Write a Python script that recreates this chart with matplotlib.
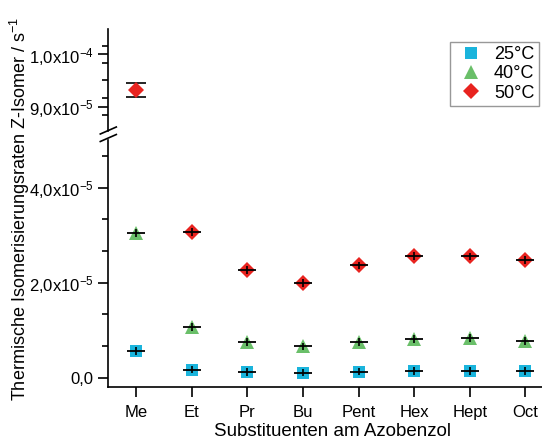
import matplotlib
matplotlib.use("Agg")
import math
import matplotlib.pyplot as plt
from matplotlib.lines import Line2D
from matplotlib.ticker import FixedLocator, FuncFormatter

plt.rcParams['font.family'] = ['Liberation Sans', 'DejaVu Sans']
plt.rcParams['mathtext.default'] = 'regular'

categories = ["Me", "Et", "Pr", "Bu", "Pent", "Hex", "Hept", "Oct"]
rate_25 = [0.56e-5, 0.17e-5, 0.12e-5, 0.105e-5, 0.126e-5, 0.135e-5, 0.135e-5, 0.135e-5]
err_25 = [0.08e-5, 0.08e-5, 0.08e-5, 0.08e-5, 0.08e-5, 0.08e-5, 0.08e-5, 0.08e-5]
rate_40 = [3.04e-5, 1.06e-5, 0.745e-5, 0.66e-5, 0.745e-5, 0.82e-5, 0.84e-5, 0.77e-5]
err_40 = [0.08e-5, 0.08e-5, 0.08e-5, 0.08e-5, 0.08e-5, 0.08e-5, 0.08e-5, 0.08e-5]
rate_50 = [9.32e-5, 3.07e-5, 2.26e-5, 1.99e-5, 2.36e-5, 2.56e-5, 2.55e-5, 2.47e-5]
err_50 = [0.14e-5, 0.08e-5, 0.08e-5, 0.08e-5, 0.08e-5, 0.08e-5, 0.08e-5, 0.08e-5]

c25 = "#1ab4dc"
c40 = "#6abf69"
c50 = "#e8231f"

W, H = 542, 441
fig = plt.figure(figsize=(W / 100, H / 100), dpi=100)

left_px = 108.3
ax_lo = fig.add_axes([left_px / W, (H - 387) / H, (W - left_px) / W, (387 - 140) / H])
ax_hi = fig.add_axes([left_px / W, (H - 131) / H, (W - left_px) / W, (131 - 29) / H])

x = list(range(1, len(categories) + 1))

series = [(rate_25, err_25, c25, "s", 8, "25°C"),
          (rate_40, err_40, c40, "^", 10, "40°C"),
          (rate_50, err_50, c50, "D", 8.5, "50°C")]

for ax in (ax_lo, ax_hi):
    for vals, errs, col, mk, ms, lab in series:
        ax.plot(x, vals, linestyle="none", marker=mk, markersize=ms, color=col,
                markeredgewidth=0, label=lab, zorder=2)
        ax.errorbar(x[1:], vals[1:], yerr=errs[1:], fmt="none", ecolor="black",
                    elinewidth=1.2, capsize=0, zorder=3)
        ax.plot(x[1:], vals[1:], linestyle="none", marker="_", markersize=13,
                markeredgewidth=1.3, color="black", zorder=3)
    ax.set_xlim(0.5, 0.5 + (W - left_px) / 55.6)
    ax.spines['top'].set_visible(False)
    ax.spines['right'].set_visible(False)
    ax.spines['left'].set_linewidth(1.2)
    ax.spines['bottom'].set_linewidth(1.2)
    ax.tick_params(axis='y', which='major', direction='out', length=7, width=1.2, labelsize=12)
    ax.tick_params(axis='y', which='minor', direction='out', length=4, width=1.2)
    ax.patch.set_alpha(0)

# Me column: 25°C and 40°C crosses, 50°C large error bar with caps
ax_lo.errorbar([x[0]], [rate_25[0]], yerr=[err_25[0]], fmt="none", ecolor="black",
               elinewidth=1.2, capsize=0, zorder=3)
ax_lo.plot([x[0]], [rate_25[0]], marker="_", markersize=13, markeredgewidth=1.3,
           color="black", zorder=3)
ax_lo.errorbar([x[0]], [rate_40[0]], yerr=[err_40[0]], fmt="none", ecolor="black",
               elinewidth=1.2, capsize=0, zorder=3)
ax_lo.plot([x[0]], [rate_40[0]], marker="_", markersize=13, markeredgewidth=1.3,
           color="black", zorder=3)
ax_hi.errorbar([x[0]], [rate_50[0]], yerr=[err_50[0]], fmt="none", ecolor="black",
               elinewidth=1.2, capsize=7, capthick=1.2, zorder=1)

ax_lo.set_ylim(-0.196e-5, 5.0e-5)
ax_hi.set_ylim(8.536e-5, 1.0483e-4)


def fmt(v, pos):
    if abs(v) < 1e-12:
        return "0,0"
    e = int(math.floor(math.log10(abs(v))))
    m = v / 10 ** e
    return ("%.1f" % m).replace(".", ",") + "x10$^{%d}$" % e


ax_lo.yaxis.set_major_locator(FixedLocator([0, 2e-5, 4e-5]))
ax_lo.yaxis.set_minor_locator(FixedLocator([k * 2e-5 / 3 for k in range(0, 8)]))
ax_lo.yaxis.set_major_formatter(FuncFormatter(fmt))
ax_hi.yaxis.set_major_locator(FixedLocator([9e-5, 1e-4]))
ax_hi.yaxis.set_minor_locator(FixedLocator([8.5e-5 + k * 1e-5 / 3 for k in range(0, 7)]))
ax_hi.yaxis.set_major_formatter(FuncFormatter(fmt))

ax_lo.set_xticks(x)
ax_lo.set_xticklabels(categories)
ax_lo.tick_params(axis='x', direction='out', length=7, width=1.2, labelsize=12, pad=6)
ax_hi.spines['bottom'].set_visible(False)
ax_hi.tick_params(axis='x', which='both', bottom=False, labelbottom=False)

# axis break marks
for yc in (130.5, 138.0):
    fig.add_artist(Line2D([(left_px - 8) / W, (left_px + 8) / W],
                          [(H - yc - 3.5) / H, (H - yc + 3.5) / H],
                          color="black", linewidth=1.2))

fig.text(20 / W, (H - 209) / H, "Thermische Isomerisierungsraten Z-Isomer / s$^{-1}$",
         rotation=90, ha="center", va="center", fontsize=13)
fig.text(332 / W, (H - 431) / H, "Substituenten am Azobenzol",
         ha="center", va="center", fontsize=13.5)

handles = [Line2D([], [], linestyle="none", marker=mk, markersize=ms, color=col,
                  markeredgewidth=0) for _, _, col, mk, ms, _ in series]
labels = [s[5] for s in series]
leg = ax_hi.legend(handles, labels, loc="upper right", bbox_to_anchor=(539 / W, (H - 41.7) / H),
                   bbox_transform=fig.transFigure, fontsize=13, frameon=True, fancybox=False,
                   edgecolor="#7f7f7f", handlelength=1.8, handletextpad=0.4,
                   labelspacing=0.12, borderpad=0.25, borderaxespad=0)
leg.get_frame().set_linewidth(1.0)

fig.savefig("out.png", dpi=100)
